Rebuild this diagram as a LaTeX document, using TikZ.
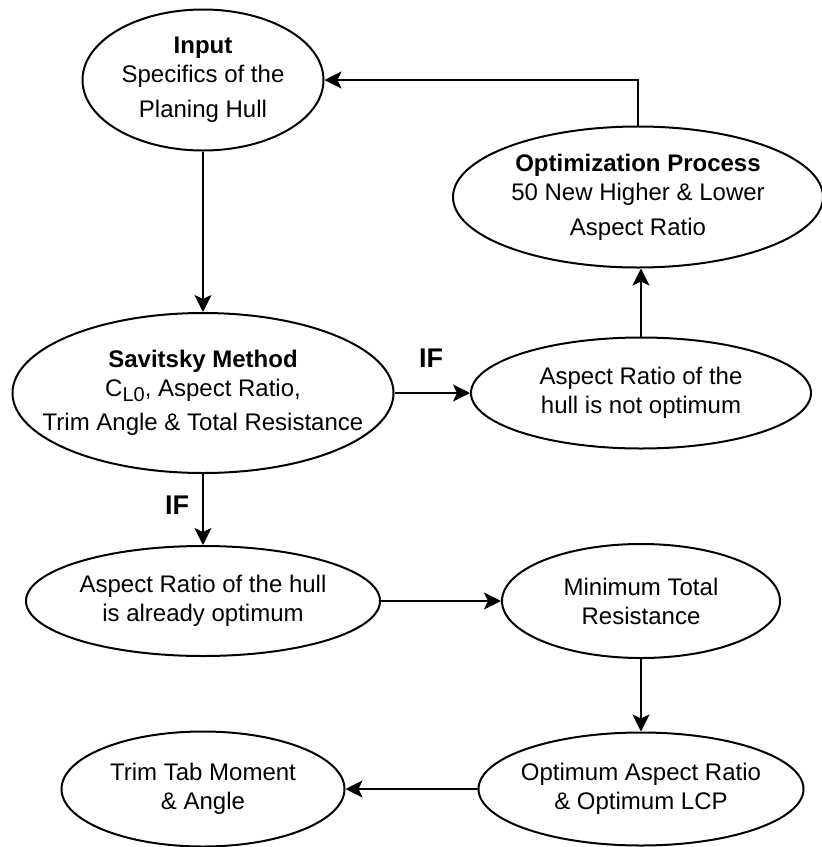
\documentclass[tikz,border=0pt]{standalone}
\usepackage{fontspec}
\setmainfont{Liberation Sans}
\usetikzlibrary{shapes.geometric,arrows.meta}

\begin{document}
\begin{tikzpicture}[
    x=0.5pt, y=-0.5pt,
    >={Stealth[length=8.5pt,width=8.5pt,inset=2pt]},
    blob/.style={ellipse,draw,line width=1pt,inner sep=0pt},
    txt/.style={align=center,inner sep=0pt,font=\fontsize{12}{14.5}\selectfont},
    cond/.style={font=\fontsize{13.5}{16}\selectfont\bfseries,inner sep=0pt},
    flow/.style={->,line width=1pt},
]
\useasboundingbox (0,0) rectangle (822,847);

% left column
\node[blob,minimum width=120.5pt,minimum height=70.5pt,
    label={[txt]center:{\textbf{Input}\\Specifics of the\\[3pt]Planing Hull}}] (inp) at (203,80) {};
\node[blob,minimum width=190.5pt,minimum height=80pt,
    label={[txt]center:{\textbf{Savitsky Method}\\C\raisebox{-2.5pt}{\fontsize{10}{10}\selectfont L0}, Aspect Ratio,\\[2.5pt]Trim Angle \& Total Resistance}}] (sav) at (203,393) {};
\node[blob,minimum width=177pt,minimum height=55pt,
    label={[txt]center:{Aspect Ratio of the hull\\is already optimum}}] (ready) at (203,601) {};
\node[blob,minimum width=141.5pt,minimum height=57.5pt,
    label={[txt]center:{Trim Tab Moment\\\& Angle}}] (trim) at (203,789) {};

% right column
\node[blob,minimum width=185pt,minimum height=70.5pt,
    label={[txt]center:{\textbf{Optimization Process}\\50 New Higher \& Lower\\[3pt]Aspect Ratio}}] (opt) at (638,197) {};
\node[blob,minimum width=170pt,minimum height=55.5pt,
    label={[txt]center:{Aspect Ratio of the\\hull is not optimum}}] (notopt) at (641,393) {};
\node[blob,minimum width=139pt,minimum height=57pt,
    label={[txt]center:{Minimum Total\\Resistance}}] (mintr) at (641,601) {};
\node[blob,minimum width=162.5pt,minimum height=56.5pt,
    label={[txt]center:{Optimum Aspect Ratio\\\& Optimum LCP}}] (optar) at (641,789) {};

% conditions
\node[cond] (ifright) at (431,358) {IF};
\node[cond] (ifdown) at (177,505) {IF};

% connectors
\draw[flow] (inp) -- (sav);
\draw[flow] (sav) -- (notopt);
\draw[flow] (notopt.north) -- (notopt.north |- opt.south);
\draw[flow] (opt.north) |- (inp.east);
\draw[flow] (sav) -- (ready);
\draw[flow] (ready) -- (mintr);
\draw[flow] (mintr) -- (optar);
\draw[flow] (optar) -- (trim);
\end{tikzpicture}
\end{document}
